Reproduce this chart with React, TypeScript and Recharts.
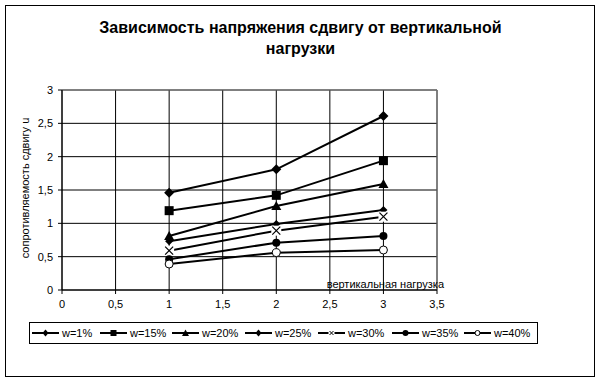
import React from 'react';
import { LineChart, Line, XAxis, YAxis, CartesianGrid, ReferenceLine } from 'recharts';

const loads = [1, 2, 3];
const series = ['w=1%', 'w=15%', 'w=20%', 'w=25%', 'w=30%', 'w=35%', 'w=40%'];
const w1 = [1.46, 1.81, 2.61];
const w15 = [1.19, 1.42, 1.94];
const w20 = [0.81, 1.26, 1.59];
const w25 = [0.73, 0.99, 1.2];
const w30 = [0.59, 0.89, 1.1];
const w35 = [0.46, 0.71, 0.81];
const w40 = [0.39, 0.56, 0.6];
const xTicks = [0, 0.5, 1, 1.5, 2, 2.5, 3, 3.5];
const yTicks = [0, 0.5, 1, 1.5, 2, 2.5, 3];

const values = [w1, w15, w20, w25, w30, w35, w40];
const shapes = ['diamond', 'square', 'triangle', 'smallDiamond', 'cross', 'circle', 'openCircle'];
// legend entry left edges, page px
const legendX = [32, 100, 172, 245, 318, 392, 464];

const data = loads.map((x, i) => {
  const row: Record<string, number> = { x };
  series.forEach((name, s) => {
    row[name] = values[s][i];
  });
  return row;
});

const font = '"Liberation Sans", Arial, sans-serif';
const fmt = (v: number) => String(v).replace('.', ',');

const Marker = ({ shape, cx, cy }: { shape: string; cx: number; cy: number }) => {
  switch (shape) {
    case 'diamond':
      return <polygon points={`${cx},${cy - 5} ${cx + 5},${cy} ${cx},${cy + 5} ${cx - 5},${cy}`} fill="#000" />;
    case 'smallDiamond':
      return <polygon points={`${cx},${cy - 4} ${cx + 4},${cy} ${cx},${cy + 4} ${cx - 4},${cy}`} fill="#000" />;
    case 'square':
      return <rect x={cx - 4.5} y={cy - 4.5} width={9} height={9} fill="#000" />;
    case 'triangle':
      return <polygon points={`${cx},${cy - 5} ${cx + 5},${cy + 4} ${cx - 5},${cy + 4}`} fill="#000" />;
    case 'cross':
      return (
        <g>
          <rect x={cx - 5} y={cy - 5} width={10} height={10} fill="#fff" />
          <path d={`M${cx - 4},${cy - 4}L${cx + 4},${cy + 4}M${cx + 4},${cy - 4}L${cx - 4},${cy + 4}`} stroke="#000" strokeWidth={1.2} />
        </g>
      );
    case 'circle':
      return <circle cx={cx} cy={cy} r={4} fill="#000" />;
    default:
      return <circle cx={cx} cy={cy} r={4} fill="#fff" stroke="#000" strokeWidth={1} />;
  }
};

const makeDot = (shape: string) => (props: any) => {
  const { cx, cy, index } = props;
  return <Marker key={`${shape}-${index}`} shape={shape} cx={cx} cy={cy} />;
};

const LegendIcon = ({ shape, wide }: { shape: string; wide: number }) => {
  const m = wide / 2;
  return (
    <svg width={wide} height={10} style={{ display: 'block' }}>
      <line x1={0} y1={5} x2={wide} y2={5} stroke="#000" strokeWidth={2} />
      {shape === 'cross' ? (
        <g>
          <rect x={m - 3} y={1} width={6} height={8} fill="#fff" />
          <path d={`M${m - 2},3L${m + 2},7M${m + 2},3L${m - 2},7`} stroke="#000" strokeWidth={1} />
        </g>
      ) : shape === 'openCircle' ? (
        <circle cx={m} cy={5} r={2.5} fill="#fff" stroke="#000" strokeWidth={1} />
      ) : shape === 'square' ? (
        <rect x={m - 3} y={2} width={6} height={6} fill="#000" />
      ) : shape === 'triangle' ? (
        <polygon points={`${m},1.5 ${m + 3.5},8 ${m - 3.5},8`} fill="#000" />
      ) : shape === 'circle' ? (
        <circle cx={m} cy={5} r={3} fill="#000" />
      ) : (
        <polygon points={`${m},1.5 ${m + 3},5 ${m},8.5 ${m - 3},5`} fill="#000" />
      )}
    </svg>
  );
};

const App = () => {
  return (
    <div style={{ position: 'absolute', left: 0, top: 0, width: 601, height: 380, background: '#fff', fontFamily: font }}>
      <div
        style={{
          position: 'absolute', left: 5, top: 5, width: 588, height: 370,
          border: '1px solid #000', boxSizing: 'content-box',
        }}
      />
      <div
        style={{
          position: 'absolute', left: 0, top: 17, width: 601, textAlign: 'center',
          fontSize: 16, fontWeight: 'bold', lineHeight: '21px', color: '#000',
        }}
      >
        Зависимость напряжения сдвигу от вертикальной
        <br />
        нагрузки
      </div>
      <div style={{ position: 'absolute', left: 0, top: 0 }}>
        <LineChart width={601} height={380} data={data} margin={{ top: 90, right: 164, bottom: 60, left: 32 }}>
          <CartesianGrid stroke="#000" strokeWidth={1} vertical horizontal />
          <XAxis
            dataKey="x"
            type="number"
            domain={[0, 3.5]}
            ticks={xTicks}
            tickFormatter={fmt}
            tick={{ fill: '#000', fontSize: 11, fontFamily: font }}
            axisLine={{ stroke: '#000' }}
            tickLine={{ stroke: '#000' }}
            tickSize={4}
            tickMargin={6}
            height={30}
            label={{
              content: (p: any) => (
                <text x={p.viewBox.x + p.viewBox.width + 7} y={p.viewBox.y - 2} textAnchor="end" fontSize={11} fontFamily={font} fill="#000">
                  вертикальная нагрузка
                </text>
              ),
            }}
          />
          <YAxis
            type="number"
            domain={[0, 3]}
            ticks={yTicks}
            tickFormatter={fmt}
            tick={{ fill: '#000', fontSize: 11, fontFamily: font }}
            axisLine={{ stroke: '#000' }}
            tickLine={{ stroke: '#000' }}
            tickSize={4}
            tickMargin={5}
            width={30}
            label={{
              content: () => (
                <text x={29} y={188} transform="rotate(-90 29 188)" textAnchor="middle" fontSize={11} fontFamily={font} fill="#000">
                  сопротивляемость сдвигу u
                </text>
              ),
            }}
          />
          <ReferenceLine y={3} stroke="#808080" />
          <ReferenceLine x={3.5} stroke="#808080" />
          {series.map((name, s) => (
            <Line
              key={name}
              dataKey={name}
              stroke="#000"
              strokeWidth={2}
              dot={makeDot(shapes[s])}
              activeDot={false}
              isAnimationActive={false}
            />
          ))}
        </LineChart>
      </div>
      <div
        style={{
          position: 'absolute', left: 29, top: 322, width: 509, height: 22,
          border: '1px solid #000', boxSizing: 'border-box',
        }}
      />
      {series.map((name, s) => (
        <div
          key={name}
          style={{
            position: 'absolute', left: legendX[s], top: 327, height: 12,
            display: 'flex', alignItems: 'center', fontSize: 11, color: '#000', whiteSpace: 'nowrap',
          }}
        >
          <LegendIcon shape={shapes[s]} wide={27} />
          <span style={{ marginLeft: 3 }}>{name}</span>
        </div>
      ))}
    </div>
  );
};

export default App;
